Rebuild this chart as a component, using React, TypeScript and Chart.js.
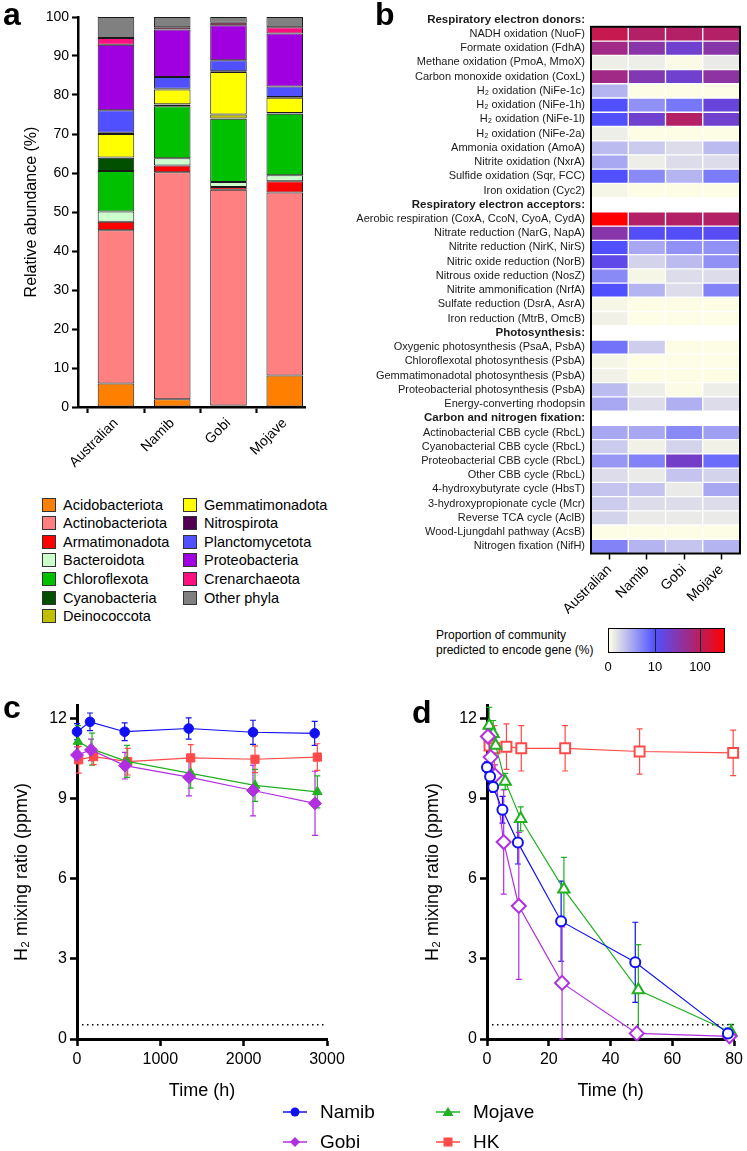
import React, { useEffect, useRef } from 'react';
import { Chart, registerables } from 'chart.js';

Chart.register(...registerables);

const FONT = "'Liberation Sans', Arial, Helvetica, sans-serif";
Chart.defaults.font.family = FONT;
Chart.defaults.color = '#000';

// ---------------- Panel a: community composition ----------------
const sites = ['Australian', 'Namib', 'Gobi', 'Mojave'];
const sitePositions = [1, 2, 3, 4];
const acidobacteriota = [6.0, 2.0, 0.4, 8.1];
const actinobacteriota = [39.3, 58.2, 55.3, 46.9];
const armatimonadota = [2.2, 1.7, 0.7, 2.9];
const bacteroidota = [2.6, 1.9, 1.3, 1.5];
const chloroflexota = [10.4, 13.3, 16.2, 15.8];
const cyanobacteria = [3.4, 0.4, 0.1, 0.1];
const deinococcota = [0.1, 0.1, 1.0, 0.1];
const gemmatimonadota = [6.0, 3.8, 10.9, 3.9];
const nitrospirota = [0.3, 0.2, 0.2, 0.2];
const planctomycetota = [5.8, 3.0, 2.8, 2.7];
const proteobacteria = [16.8, 12.2, 9.0, 13.6];
const crenarchaeota = [1.7, 0.6, 0.6, 1.6];
const otherPhyla = [5.4, 2.6, 1.5, 2.6];

const phylumNames = [
  'Acidobacteriota', 'Actinobacteriota', 'Armatimonadota', 'Bacteroidota', 'Chloroflexota',
  'Cyanobacteria', 'Deinococcota', 'Gemmatimonadota', 'Nitrospirota', 'Planctomycetota',
  'Proteobacteria', 'Crenarchaeota', 'Other phyla',
];
const phylumValues = [
  acidobacteriota, actinobacteriota, armatimonadota, bacteroidota, chloroflexota,
  cyanobacteria, deinococcota, gemmatimonadota, nitrospirota, planctomycetota,
  proteobacteria, crenarchaeota, otherPhyla,
];
const phylumColors = [
  '#FF8000', '#FF8080', '#FF0000', '#CCFFCC', '#00C000',
  '#005000', '#C0C000', '#FFFF00', '#500050', '#5050FF',
  '#A000E0', '#FF1080', '#808080',
];

// ---------------- Panel b: heatmap ----------------
const heatRows = [
  'Respiratory electron donors:',
  'NADH oxidation (NuoF)',
  'Formate oxidation (FdhA)',
  'Methane oxidation (PmoA, MmoX)',
  'Carbon monoxide oxidation (CoxL)',
  'H\u2082 oxidation (NiFe-1c)',
  'H\u2082 oxidation (NiFe-1h)',
  'H\u2082 oxidation (NiFe-1l)',
  'H\u2082 oxidation (NiFe-2a)',
  'Ammonia oxidation (AmoA)',
  'Nitrite oxidation (NxrA)',
  'Sulfide oxidation (Sqr, FCC)',
  'Iron oxidation (Cyc2)',
  'Respiratory electron acceptors:',
  'Aerobic respiration (CoxA, CcoN, CyoA, CydA)',
  'Nitrate reduction (NarG, NapA)',
  'Nitrite reduction (NirK, NirS)',
  'Nitric oxide reduction (NorB)',
  'Nitrous oxide reduction (NosZ)',
  'Nitrite ammonification (NrfA)',
  'Sulfate reduction (DsrA, AsrA)',
  'Iron reduction (MtrB, OmcB)',
  'Photosynthesis:',
  'Oxygenic photosynthesis (PsaA, PsbA)',
  'Chloroflexotal photosynthesis (PsbA)',
  'Gemmatimonadotal photosynthesis (PsbA)',
  'Proteobacterial photosynthesis (PsbA)',
  'Energy-converting rhodopsin',
  'Carbon and nitrogen fixation:',
  'Actinobacterial CBB cycle (RbcL)',
  'Cyanobacterial CBB cycle (RbcL)',
  'Proteobacterial CBB cycle (RbcL)',
  'Other CBB cycle (RbcL)',
  '4-hydroxybutyrate cycle (HbsT)',
  '3-hydroxypropionate cycle (Mcr)',
  'Reverse TCA cycle (AclB)',
  'Wood-Ljungdahl pathway (AcsB)',
  'Nitrogen fixation (NifH)',
];
const heatAustralian = [null, 120, 58, 1.0, 58, 4.3, 10, 10.5, 1.0, 3.9, 5.0, 10, 0.5,
  null, 300, 34, 10, 14, 6.7, 10, 0.5, 0.8,
  null, 8.0, 0.5, 0.8, 3.9, 5.0,
  null, 5.0, 3.0, 5.9, 2.0, 3.4, 3.0, 2.5, 0.1, 7.1];
const heatNamib = [null, 90, 34, 1.0, 30, 0.1, 6.3, 20, 0.1, 3.0, 1.0, 6.7, 0.1,
  null, 90, 11, 5.0, 2.5, 0.5, 4.3, 0.1, 0.1,
  null, 2.8, 0.1, 0.1, 1.0, 2.0,
  null, 5.0, 0.8, 7.1, 1.2, 3.4, 2.0, 1.2, 0.1, 4.3];
const heatGobi = [null, 90, 20, 0.3, 20, 0.1, 7.8, 90, 0.1, 2.0, 2.0, 4.3, 0.1,
  null, 90, 11, 6.3, 3.9, 2.0, 2.0, 0.1, 0.1,
  null, 0.1, 0.1, 0.1, 0.2, 4.6,
  null, 6.7, 2.5, 22, 3.4, 1.2, 2.0, 1.2, 0.1, 3.4];
const heatMojave = [null, 90, 34, 1.2, 38, 0.1, 17, 20, 0.1, 3.9, 2.0, 7.5, 0.1,
  null, 90, 12, 6.3, 6.3, 2.0, 7.1, 0.1, 0.1,
  null, 0.1, 0.1, 0.1, 1.0, 2.0,
  null, 5.5, 0.8, 8.4, 2.5, 5.0, 2.0, 1.2, 0.1, 4.3];
const heatColumns = [heatAustralian, heatNamib, heatGobi, heatMojave];
const colorbarTicks = ['0', '10', '100'];

// ---------------- Panel c: long incubation ----------------
const cNamibTime = [0, 156, 572, 1340, 2112, 2852];
const cNamib = [11.50, 11.87, 11.50, 11.62, 11.48, 11.44];
const cNamibErr = [0.3, 0.33, 0.33, 0.4, 0.45, 0.45];
const cGobiTime = [0, 168, 576, 1344, 2112, 2856];
const cGobi = [10.63, 10.82, 10.23, 9.80, 9.30, 8.82];
const cGobiErr = [0.3, 0.4, 0.5, 0.7, 0.95, 1.2];
const cMojaveTime = [12, 180, 600, 1364, 2136, 2884];
const cMojave = [11.13, 10.85, 10.39, 9.94, 9.49, 9.25];
const cMojaveErr = [0.6, 0.6, 0.6, 0.55, 0.6, 0.6];
const cHKTime = [20, 200, 608, 1364, 2136, 2884];
const cHK = [10.45, 10.57, 10.38, 10.52, 10.47, 10.55];
const cHKErr = [0.5, 0.3, 0.5, 0.5, 0.5, 0.5];
const cLimitTime = [0, 3000];

// ---------------- Panel d: short incubation ----------------
const dNamibTime = [0, 1, 2, 5, 10, 24, 48, 78];
const dNamib = [10.17, 9.82, 9.43, 8.58, 7.35, 4.41, 2.87, 0.21];
const dNamibErr = [0.2, 0.2, 0.2, 0.5, 0.8, 1.5, 1.5, 0.2];
const dGobiTime = [0.3, 1.2, 2.6, 5.4, 10.3, 24.3, 48.5, 78.5];
const dGobi = [11.32, 10.55, 9.86, 7.37, 4.98, 2.10, 0.21, 0.10];
const dGobiErr = [0.3, 0.5, 0.4, 1.95, 2.75, 2.1, 0.1, 0.1];
const dMojaveTime = [0.7, 2.0, 2.8, 5.9, 10.9, 24.9, 49.0, 79.0];
const dMojave = [11.73, 11.42, 10.98, 9.64, 8.24, 5.60, 1.83, 0.25];
const dMojaveErr = [0.68, 0.5, 0.4, 0.3, 0.45, 1.2, 1.7, 0.3];
const dHKTime = [0.8, 2.4, 6.3, 11.1, 25.3, 49.4, 79.7];
const dHK = [10.98, 10.88, 10.94, 10.88, 10.88, 10.76, 10.71];
const dHKErr = [0.85, 0.85, 0.85, 0.85, 0.85, 0.85, 0.85];
const dLimitTime = [0, 80];

const detectionLimit = 0.53;

const seriesNames = ['Namib', 'Gobi', 'Mojave', 'HK'];
const seriesColors = ['#1010F0', '#B030E0', '#20B020', '#FF4A4A'];
const seriesShapes = ['circle', 'rectRot', 'triangle', 'rect'];

// ---------------- helpers ----------------
const colorStops: [number, number[]][] = [
  [0, [255, 255, 229]],
  [0.4, [80, 80, 255]],
  [0.79, [185, 30, 95]],
  [1, [255, 0, 0]],
];
function heatPos(v: number) {
  if (v <= 10) return (0.4 * v) / 10;
  if (v <= 100) return 0.4 + 0.39 * Math.log10(v / 10);
  return Math.min(1, 0.79 + (0.21 * Math.log10(v / 100)) / Math.log10(3));
}
function heatColor(v: number) {
  const p = heatPos(v);
  for (let i = 1; i < colorStops.length; i++) {
    const [p1, c1] = colorStops[i];
    const [p0, c0] = colorStops[i - 1];
    if (p <= p1) {
      const t = (p - p0) / (p1 - p0);
      const c = c0.map((a, k) => Math.round(a + (c1[k] - a) * t));
      return `rgb(${c[0]},${c[1]},${c[2]})`;
    }
  }
  return 'rgb(255,0,0)';
}
const gradientCss =
  'linear-gradient(to right, ' +
  colorStops.map(([p, c]) => `rgb(${c[0]},${c[1]},${c[2]}) ${p * 100}%`).join(', ') +
  ')';

const errorBarPlugin = {
  id: 'errorBars',
  beforeDatasetsDraw(chart: any) {
    const ctx = chart.ctx;
    const ys = chart.scales.y;
    chart.data.datasets.forEach((ds: any, i: number) => {
      if (!ds.errors) return;
      const meta = chart.getDatasetMeta(i);
      ctx.save();
      ctx.strokeStyle = ds.borderColor;
      ctx.lineWidth = 1.2;
      meta.data.forEach((pt: any, j: number) => {
        const e = ds.errors[j];
        if (!e) return;
        const v = ds.data[j].y;
        const top = ys.getPixelForValue(v + e);
        const bot = ys.getPixelForValue(Math.max(0, v - e));
        const x = pt.x;
        ctx.beginPath();
        ctx.moveTo(x, top);
        ctx.lineTo(x, bot);
        ctx.moveTo(x - 3, top);
        ctx.lineTo(x + 3, top);
        ctx.moveTo(x - 3, bot);
        ctx.lineTo(x + 3, bot);
        ctx.stroke();
      });
      ctx.restore();
    });
  },
};

const heatBoxPlugin = {
  id: 'heatBox',
  afterDatasetsDraw(chart: any) {
    const { ctx, chartArea: a, scales } = chart;
    const y = scales.y;
    const p0 = y.getPixelForValue(0);
    const p1 = y.getPixelForValue(1);
    const top = p1 - (p1 - p0) / 2;
    ctx.save();
    ctx.strokeStyle = '#000';
    ctx.lineWidth = 2;
    ctx.strokeRect(a.left, top, a.right - a.left, a.bottom - top);
    ctx.restore();
  },
};

function axisStyle(width: number, tickLen: number) {
  return {
    grid: { drawOnChartArea: false, tickLength: tickLen, tickWidth: width * 0.85, tickColor: '#000', color: '#000' },
    border: { color: '#000', width },
  };
}

function lineChart(canvas: HTMLCanvasElement, cfg: any) {
  const datasets: any[] = cfg.series.map((s: any, i: number) => ({
    label: seriesNames[i],
    data: s.time.map((t: number, j: number) => ({ x: t, y: s.values[j] })),
    errors: s.errors,
    showLine: true,
    borderColor: seriesColors[i],
    borderWidth: 1.2,
    pointStyle: seriesShapes[i],
    pointRadius: cfg.radii[i],
    pointBorderWidth: cfg.open ? 2 : 1,
    pointBorderColor: seriesColors[i],
    pointBackgroundColor: cfg.open ? '#FFFFFF' : seriesColors[i],
    clip: false,
  }));
  datasets.push({
    label: 'limit',
    data: cfg.limitTime.map((t: number) => ({ x: t, y: detectionLimit })),
    showLine: true,
    borderColor: '#000',
    borderWidth: 1.5,
    borderDash: [1.5, 3.5],
    pointRadius: 0,
  });
  return new Chart(canvas, {
    type: 'scatter',
    data: { datasets },
    plugins: [errorBarPlugin],
    options: {
      responsive: false,
      animation: false,
      layout: { padding: cfg.padding },
      plugins: { legend: { display: false }, tooltip: { enabled: false } },
      scales: {
        x: {
          type: 'linear',
          min: 0,
          max: cfg.xMax,
          afterFit: (s: any) => { s.height = 66; },
          ticks: { stepSize: cfg.xStep, includeBounds: false, font: { size: 16 }, color: '#000', padding: 4, callback: (v: any) => String(v) },
          title: { display: true, text: 'Time (h)', font: { size: 18 }, color: '#000', padding: { top: 0, bottom: 3 } },
          ...axisStyle(3, 7),
        },
        y: {
          type: 'linear',
          min: 0,
          max: 12.5,
          afterFit: (s: any) => { s.width = cfg.yWidth; },
          ticks: { stepSize: 3, includeBounds: false, font: { size: 16 }, color: '#000', padding: 3, callback: (v: any) => String(v) },
          title: { display: true, text: 'H\u2082 mixing ratio (ppmv)', font: { size: 18 }, color: '#000', padding: { top: cfg.titlePad, bottom: 0 } },
          ...axisStyle(3, 7),
        },
      },
    } as any,
  });
}

function LegendMarker({ color, shape }: { color: string; shape: string }) {
  let m: any = null;
  if (shape === 'circle') m = <circle cx={12} cy={8} r={4.5} fill={color} />;
  if (shape === 'rectRot') m = <polygon points="12,3 17,8 12,13 7,8" fill={color} />;
  if (shape === 'triangle') m = <polygon points="12,3 17.5,12 6.5,12" fill={color} />;
  if (shape === 'rect') m = <rect x={7.5} y={3.5} width={9} height={9} fill={color} />;
  return (
    <svg width={24} height={16} style={{ display: 'block' }}>
      <line x1={0} y1={8} x2={24} y2={8} stroke={color} strokeWidth={1.5} />
      {m}
    </svg>
  );
}

export default function App() {
  const aRef = useRef<HTMLCanvasElement>(null);
  const bRef = useRef<HTMLCanvasElement>(null);
  const cRef = useRef<HTMLCanvasElement>(null);
  const dRef = useRef<HTMLCanvasElement>(null);

  useEffect(() => {
    const charts: Chart[] = [];

    charts.push(new Chart(aRef.current as HTMLCanvasElement, {
      type: 'bar',
      data: {
        datasets: phylumNames.map((name, i) => ({
          label: name,
          data: sitePositions.map((x, j) => ({ x, y: phylumValues[i][j] })),
          backgroundColor: phylumColors[i],
          borderColor: '#1a1a1a',
          borderWidth: 1,
          borderSkipped: false,
          barPercentage: 0.65,
          categoryPercentage: 1,
        })),
      },
      options: {
        responsive: false,
        animation: false,
        layout: { padding: { top: 17, right: 15, left: 0, bottom: 0 } },
        plugins: { legend: { display: false }, tooltip: { enabled: false } },
        scales: {
          x: {
            type: 'linear',
            offset: false,
            min: 0.325,
            max: 4.36,
            stacked: true,
            afterBuildTicks: (s: any) => { s.ticks = sitePositions.map((v) => ({ value: v })); },
            afterFit: (s: any) => { s.height = 73; },
            ticks: {
              callback: (v: any) => sites[Math.round(v) - 1],
              autoSkip: false, maxRotation: 45, minRotation: 45,
              font: { size: 14 }, color: '#000', padding: 2,
            },
            ...axisStyle(2.5, 6),
          },
          y: {
            stacked: true,
            min: 0,
            max: 100,
            afterFit: (s: any) => { s.width = 78; },
            ticks: { stepSize: 10, font: { size: 14 }, color: '#000', padding: 3 },
            title: { display: true, text: 'Relative abundance (%)', font: { size: 16 }, color: '#000', padding: { top: 22, bottom: 0 } },
            ...axisStyle(2.5, 6),
          },
        },
      } as any,
    }));

    charts.push(new Chart(bRef.current as HTMLCanvasElement, {
      type: 'bar',
      data: {
        labels: heatRows,
        datasets: heatColumns.map((vals, k) => ({
          label: sites[k],
          data: vals.map((v) => (v == null ? null : [k, k + 1])),
          backgroundColor: vals.map((v) => (v == null ? 'rgba(0,0,0,0)' : heatColor(v))),
          borderColor: 'rgba(255,255,255,0.55)',
          borderWidth: 1,
          borderSkipped: false,
          grouped: false,
          barPercentage: 1,
          categoryPercentage: 1,
        })),
      },
      plugins: [heatBoxPlugin],
      options: {
        indexAxis: 'y',
        responsive: false,
        animation: false,
        layout: { padding: { top: 2.5, right: 7, left: 0, bottom: 0 } },
        plugins: { legend: { display: false }, tooltip: { enabled: false } },
        scales: {
          x: {
            type: 'linear',
            min: 0,
            max: 4,
            afterBuildTicks: (s: any) => { s.ticks = [0.5, 1.5, 2.5, 3.5].map((v) => ({ value: v })); },
            afterFit: (s: any) => { s.height = 66.5; },
            ticks: {
              callback: (v: any) => sites[Math.floor(v)],
              autoSkip: false, maxRotation: 45, minRotation: 45,
              font: { size: 14 }, color: '#000', padding: 2,
            },
            grid: { drawOnChartArea: false, tickLength: 6, tickWidth: 1.5, tickColor: '#000', color: '#000' },
            border: { display: false },
          },
          y: {
            type: 'category',
            afterFit: (s: any) => { s.width = 261; },
            ticks: {
              autoSkip: false,
              padding: 6,
              color: '#1a1a1a',
              font: (ctx: any) => {
                const bold = heatRows[ctx.index] && heatRows[ctx.index].endsWith(':');
                return { family: FONT, size: bold ? 11.5 : 11, weight: bold ? 'bold' : 'normal' };
              },
            },
            grid: { display: false, drawTicks: false },
            border: { display: false },
          },
        },
      } as any,
    }));

    charts.push(lineChart(cRef.current as HTMLCanvasElement, {
      series: [
        { time: cNamibTime, values: cNamib, errors: cNamibErr },
        { time: cGobiTime, values: cGobi, errors: cGobiErr },
        { time: cMojaveTime, values: cMojave, errors: cMojaveErr },
        { time: cHKTime, values: cHK, errors: cHKErr },
      ],
      radii: [4.8, 6.5, 5.5, 5.8],
      open: false,
      limitTime: cLimitTime,
      xMax: 3000,
      xStep: 1000,
      yWidth: 77,
      titlePad: 11,
      padding: { top: 45, right: 33, left: 0, bottom: 0 },
    }));

    charts.push(lineChart(dRef.current as HTMLCanvasElement, {
      series: [
        { time: dNamibTime, values: dNamib, errors: dNamibErr },
        { time: dGobiTime, values: dGobi, errors: dGobiErr },
        { time: dMojaveTime, values: dMojave, errors: dMojaveErr },
        { time: dHKTime, values: dHK, errors: dHKErr },
      ],
      radii: [5, 7, 6.5, 7],
      open: true,
      limitTime: dLimitTime,
      xMax: 80,
      xStep: 20,
      yWidth: 82,
      titlePad: 17,
      padding: { top: 45, right: 11, left: 0, bottom: 0 },
    }));

    return () => charts.forEach((c) => c.destroy());
  }, []);

  const panelLabel = (text: string, left: number, top: number) => (
    <div style={{ position: 'absolute', left, top, fontSize: 32, fontWeight: 'bold', lineHeight: 1 }}>{text}</div>
  );

  const leftCol = phylumNames.slice(0, 7);
  const rightCol = phylumNames.slice(7);

  return (
    <div style={{ position: 'absolute', left: 0, top: 0, width: 747, height: 1151, background: '#fff', fontFamily: FONT, color: '#000', overflow: 'hidden' }}>
      <canvas ref={aRef} width={320} height={480} style={{ position: 'absolute', left: 0, top: 0 }} />
      <canvas ref={bRef} width={417} height={620} style={{ position: 'absolute', left: 330, top: 0 }} />
      <canvas ref={cRef} width={360} height={445} style={{ position: 'absolute', left: 0, top: 660 }} />
      <canvas ref={dRef} width={342} height={445} style={{ position: 'absolute', left: 405, top: 660 }} />

      {panelLabel('a', 3, -2.5)}
      {panelLabel('b', 375, -2)}
      {panelLabel('c', 3, 691)}
      {panelLabel('d', 412, 696)}

      {[leftCol, rightCol].map((col, ci) =>
        col.map((name, ri) => {
          const idx = ci * 7 + ri;
          return (
            <div key={name} style={{ position: 'absolute', left: ci === 0 ? 42 : 183, top: 495.5 + ri * 18.6, height: 18, display: 'flex', alignItems: 'center', fontSize: 14.5, whiteSpace: 'nowrap' }}>
              <div style={{ width: 12, height: 12, background: phylumColors[idx], border: '1px solid #333', marginRight: 7 }} />
              <span>{name}</span>
            </div>
          );
        })
      )}

      <div style={{ position: 'absolute', left: 436, top: 628, fontSize: 12, lineHeight: '15px', whiteSpace: 'nowrap' }}>
        Proportion of community<br />predicted to encode gene (%)
      </div>
      <div style={{ position: 'absolute', left: 608, top: 628, width: 117, height: 25, boxSizing: 'border-box', border: '1px solid #000', background: gradientCss }}>
        <div style={{ position: 'absolute', left: 46, top: 0, width: 1, height: 23, background: '#222' }} />
        <div style={{ position: 'absolute', left: 91, top: 0, width: 1, height: 23, background: '#222' }} />
      </div>
      {colorbarTicks.map((t, i) => (
        <div key={t} style={{ position: 'absolute', left: [608, 655, 700][i] - 20, width: 40, top: 659, textAlign: 'center', fontSize: 13 }}>{t}</div>
      ))}

      {seriesNames.map((name, i) => {
        const col = i === 0 || i === 1 ? 0 : 1;
        const row = i === 0 || i === 2 ? 0 : 1;
        const left = col === 0 ? 283 : 436;
        const top = row === 0 ? 1112 : 1142;
        return (
          <div key={name} style={{ position: 'absolute', left, top: top - 12, height: 24, display: 'flex', alignItems: 'center', fontSize: 19, whiteSpace: 'nowrap' }}>
            <LegendMarker color={seriesColors[i]} shape={seriesShapes[i]} />
            <span style={{ marginLeft: 13 }}>{name}</span>
          </div>
        );
      })}
    </div>
  );
}
